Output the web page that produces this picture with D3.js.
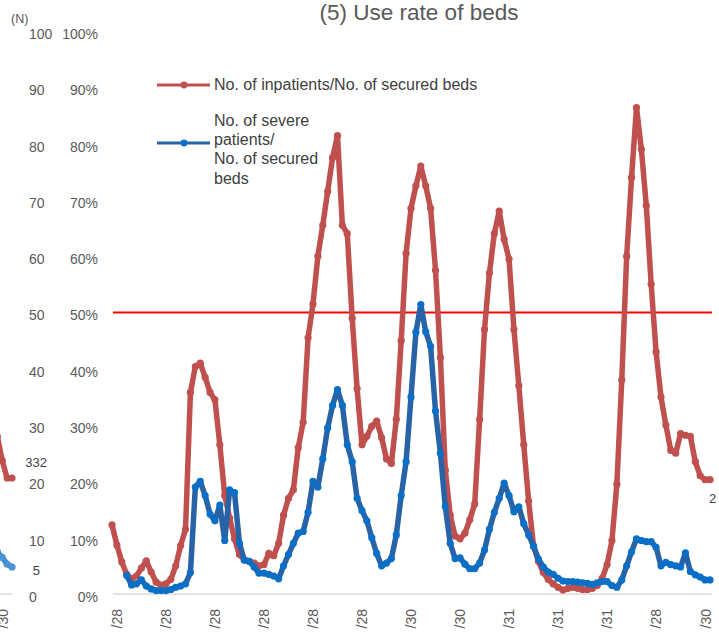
<!DOCTYPE html>
<html><head><meta charset="utf-8">
<script src="https://cdn.jsdelivr.net/npm/d3@7"></script>
<style>html,body{margin:0;padding:0;background:#fff;overflow:hidden}</style>
</head><body>
<svg id="chart" width="719" height="636"></svg>
<script>
// ---- data (percent of secured beds) ----
const inpatientRate = [
 12.3, 8.7, 5.7, 3.5, 2.7, 3.2, 4.6, 5.9, 3.9, 2.1,
 1.6, 1.8, 2.6, 5.0, 8.6, 11.5, 35.8, 40.4, 41.0, 38.5,
 35.8, 34.5, 26.5, 17.5, 13.5, 9.8, 7.0, 6.1, 5.8, 5.5,
 5.0, 5.2, 7.2, 6.8, 9.0, 14.0, 17.0, 18.5, 26.0, 30.5,
 45.5, 51.5, 60.0, 65.5, 71.5, 77.5, 81.4, 65.5, 64.0, 49.0,
 36.5, 26.5, 28.0, 29.8, 30.7, 27.8, 24.0, 23.2, 31.0, 45.0,
 60.5, 68.5, 72.5, 76.0, 72.5, 68.5, 57.5, 42.0, 22.0, 14.0,
 10.3, 9.8, 10.8, 13.2, 16.0, 31.0, 47.0, 57.0, 64.0, 68.0,
 63.0, 59.5, 47.0, 37.0, 26.5, 16.5, 8.5, 5.8, 3.8, 2.6,
 1.8, 1.2, 0.7, 1.0, 1.2, 1.0, 0.8, 0.8, 1.0, 1.5,
 2.8, 5.2, 9.5, 19.5, 38.0, 60.0, 74.0, 86.4, 79.0, 69.0,
 55.0, 43.0, 35.0, 30.0, 25.5, 25.0, 28.5, 28.2, 28.0, 23.5,
 21.0, 20.3, 20.3
];
const severeRate = [
 null, null, null, 3.3, 1.6, 1.8, 2.5, 1.4, 0.9, 0.6,
 0.6, 0.6, 0.8, 1.2, 1.4, 1.8, 3.8, 19.0, 20.0, 17.5,
 14.2, 13.0, 15.8, 9.5, 18.5, 18.0, 9.0, 6.0, 5.8, 4.8,
 3.7, 3.7, 3.5, 3.2, 2.7, 5.0, 7.0, 9.0, 10.8, 11.1,
 14.5, 20.0, 19.0, 24.0, 29.5, 33.5, 36.3, 33.5, 26.5, 23.5,
 17.0, 14.8, 13.0, 10.0, 7.2, 5.0, 5.5, 6.3, 10.5, 17.5,
 23.5, 35.0, 46.5, 51.4, 46.6, 44.0, 32.5, 25.0, 15.5, 9.0,
 6.3, 6.4, 5.3, 4.5, 4.5, 5.5, 7.8, 11.5, 14.5, 17.0,
 19.7, 17.5, 14.6, 15.5, 12.5, 10.5, 8.5, 6.2, 4.8, 3.9,
 3.5, 2.8, 2.3, 2.2, 2.2, 2.1, 2.0, 1.9, 1.7, 2.0,
 2.2, 2.2, 1.5, 1.2, 2.5, 5.0, 7.5, 9.8, 9.5, 9.3,
 9.3, 8.3, 5.0, 5.6, 5.2, 5.0, 4.8, 7.3, 4.0, 3.4,
 3.0, 2.5, 2.5
];
const tickIndex  = [1, 11, 21, 31, 41, 51, 61, 71, 81, 91, 101, 111, 121];
const tickLabels = ["/28","/28","/28","/28","/28","/28","/30","/30","/31","/31","/31","/28","/30"];
const yTickValues = [0, 10, 20, 30, 40, 50, 60, 70, 80, 90, 100];
const thresholdRate = 50;
const seriesNames = ["No. of inpatients/No. of secured beds", ["No. of severe", "patients/", "No. of secured", "beds"]];
const endLabelRed = "2";
// neighbouring panel (N), partially visible at the left edge
const prevInpatients = [28.0, 23.7, 20.6, 20.6];
const prevSevere = [7.5, 6.5, 5.3, 4.8];
const prevTickIndex = [1];
const prevTickLabels = ["/30"];
const prevEndLabels = ["332", "5"];

// ---- drawing ----
const svg = d3.select("#chart");
const RED = "#c0504d", BLUE_LINE = "#2763a6", BLUE_DOT = "#0a6fc6";
const TXT = "#595959";
const FONT = "Liberation Sans, Arial, sans-serif";

const y = d3.scaleLinear().domain([0, 100]).range([594, 31]);
const x = d3.scaleLinear().domain([0, inpatientRate.length - 1]).range([112, 710]);
const xPrev = d3.scaleLinear().domain([0, prevInpatients.length - 1]).range([-2.7, 12]);

// title
svg.append("text").attr("x", 419).attr("y", 20).attr("text-anchor", "middle")
  .attr("font-family", FONT).attr("font-size", 22.5)
  .attr("fill", TXT).text("(5) Use rate of beds");

// (N) header
svg.append("text").attr("x", 11).attr("y", 23)
  .attr("font-family", FONT).attr("font-size", 12.5)
  .attr("fill", TXT).text("(N)");

// N axis labels (left) and percent axis labels
const axN = d3.axisLeft(y).tickValues(yTickValues).tickFormat(d3.format("d")).tickSize(0);
const gN = svg.append("g").attr("transform", "translate(29,3)").call(axN);
gN.select(".domain").remove();
gN.selectAll("text").attr("text-anchor", "start").attr("x", 0)
  .attr("font-family", FONT).attr("font-size", 14).attr("fill", TXT);

const axP = d3.axisLeft(y).tickValues(yTickValues).tickFormat(d => d + "%").tickSize(0);
const gP = svg.append("g").attr("transform", "translate(98,3)").call(axP);
gP.select(".domain").remove();
gP.selectAll("text").attr("x", 0)
  .attr("font-family", FONT).attr("font-size", 14).attr("fill", TXT);

// x axis baseline
svg.append("line").attr("x1", 113).attr("x2", 712).attr("y1", y(0)).attr("y2", y(0))
  .attr("stroke", "#d9d9d9").attr("stroke-width", 1.5);
svg.append("line").attr("x1", 0).attr("x2", 12).attr("y1", y(0)).attr("y2", y(0))
  .attr("stroke", "#d9d9d9").attr("stroke-width", 1.5);

// x tick labels (rotated, cut by page bottom)
function styleX(g) {
  g.select(".domain").remove();
  g.selectAll("text").attr("transform", "rotate(-90)").attr("text-anchor", "end")
    .attr("x", -15).attr("y", 0).attr("dy", "0.35em")
    .attr("font-family", FONT).attr("font-size", 14).attr("fill", TXT);
}
const axX = d3.axisBottom(x).tickValues(tickIndex).tickFormat((d, i) => tickLabels[i]).tickSize(0);
svg.append("g").attr("transform", `translate(0,${y(0)})`).call(axX).call(styleX);
const axXPrev = d3.axisBottom(xPrev).tickValues(prevTickIndex).tickFormat((d, i) => prevTickLabels[i]).tickSize(0);
svg.append("g").attr("transform", `translate(0,${y(0)})`).call(axXPrev).call(styleX);

// 50% threshold
svg.append("line").attr("x1", 113).attr("x2", 712).attr("y1", y(thresholdRate)).attr("y2", y(thresholdRate))
  .attr("stroke", "#ff0000").attr("stroke-width", 2);

function drawSeries(data, xs, lineColor, dotColor) {
  const line = d3.line().defined(d => d != null).x((d, i) => xs(i)).y(d => y(d));
  svg.append("path").datum(data).attr("d", line).attr("fill", "none")
    .attr("stroke", lineColor).attr("stroke-width", 5.5)
    .attr("stroke-linejoin", "round").attr("stroke-linecap", "round");
  svg.append("g").selectAll("circle")
    .data(data.map((v, i) => ({v, i})).filter(d => d.v != null))
    .join("circle").attr("cx", d => xs(d.i)).attr("cy", d => y(d.v)).attr("r", 3.6)
    .attr("fill", dotColor);
}
drawSeries(prevInpatients, xPrev, RED, RED);
drawSeries(prevSevere, xPrev, "#3f86cc", "#4a93d6");
drawSeries(inpatientRate, x, RED, RED);
drawSeries(severeRate, x, BLUE_LINE, BLUE_DOT);

// end labels
svg.append("text").attr("x", 47).attr("y", 467).attr("text-anchor", "end")
  .attr("font-family", FONT).attr("font-size", 13).attr("fill", "#404040").text(prevEndLabels[0]);
svg.append("text").attr("x", 40).attr("y", 575).attr("text-anchor", "end")
  .attr("font-family", FONT).attr("font-size", 13).attr("fill", "#404040").text(prevEndLabels[1]);
svg.append("text").attr("x", 709).attr("y", 503)
  .attr("font-family", FONT).attr("font-size", 13).attr("fill", "#404040").text(endLabelRed);

// legend
const lg = svg.append("g");
lg.append("line").attr("x1", 157).attr("x2", 210).attr("y1", 85).attr("y2", 85)
  .attr("stroke", RED).attr("stroke-width", 3);
lg.append("circle").attr("cx", 184).attr("cy", 85).attr("r", 3.4).attr("fill", RED);
lg.append("text").attr("x", 214).attr("y", 90).attr("font-family", FONT)
  .attr("font-size", 16).attr("fill", "#404040").text(seriesNames[0]);
lg.append("line").attr("x1", 157).attr("x2", 210).attr("y1", 143).attr("y2", 143)
  .attr("stroke", BLUE_LINE).attr("stroke-width", 3);
lg.append("circle").attr("cx", 184).attr("cy", 143).attr("r", 3.4).attr("fill", BLUE_DOT);
seriesNames[1].forEach((t, i) => {
  lg.append("text").attr("x", 214).attr("y", 126 + i * 19.2).attr("font-family", FONT)
    .attr("font-size", 16).attr("fill", "#404040").text(t);
});
</script>
</body></html>
